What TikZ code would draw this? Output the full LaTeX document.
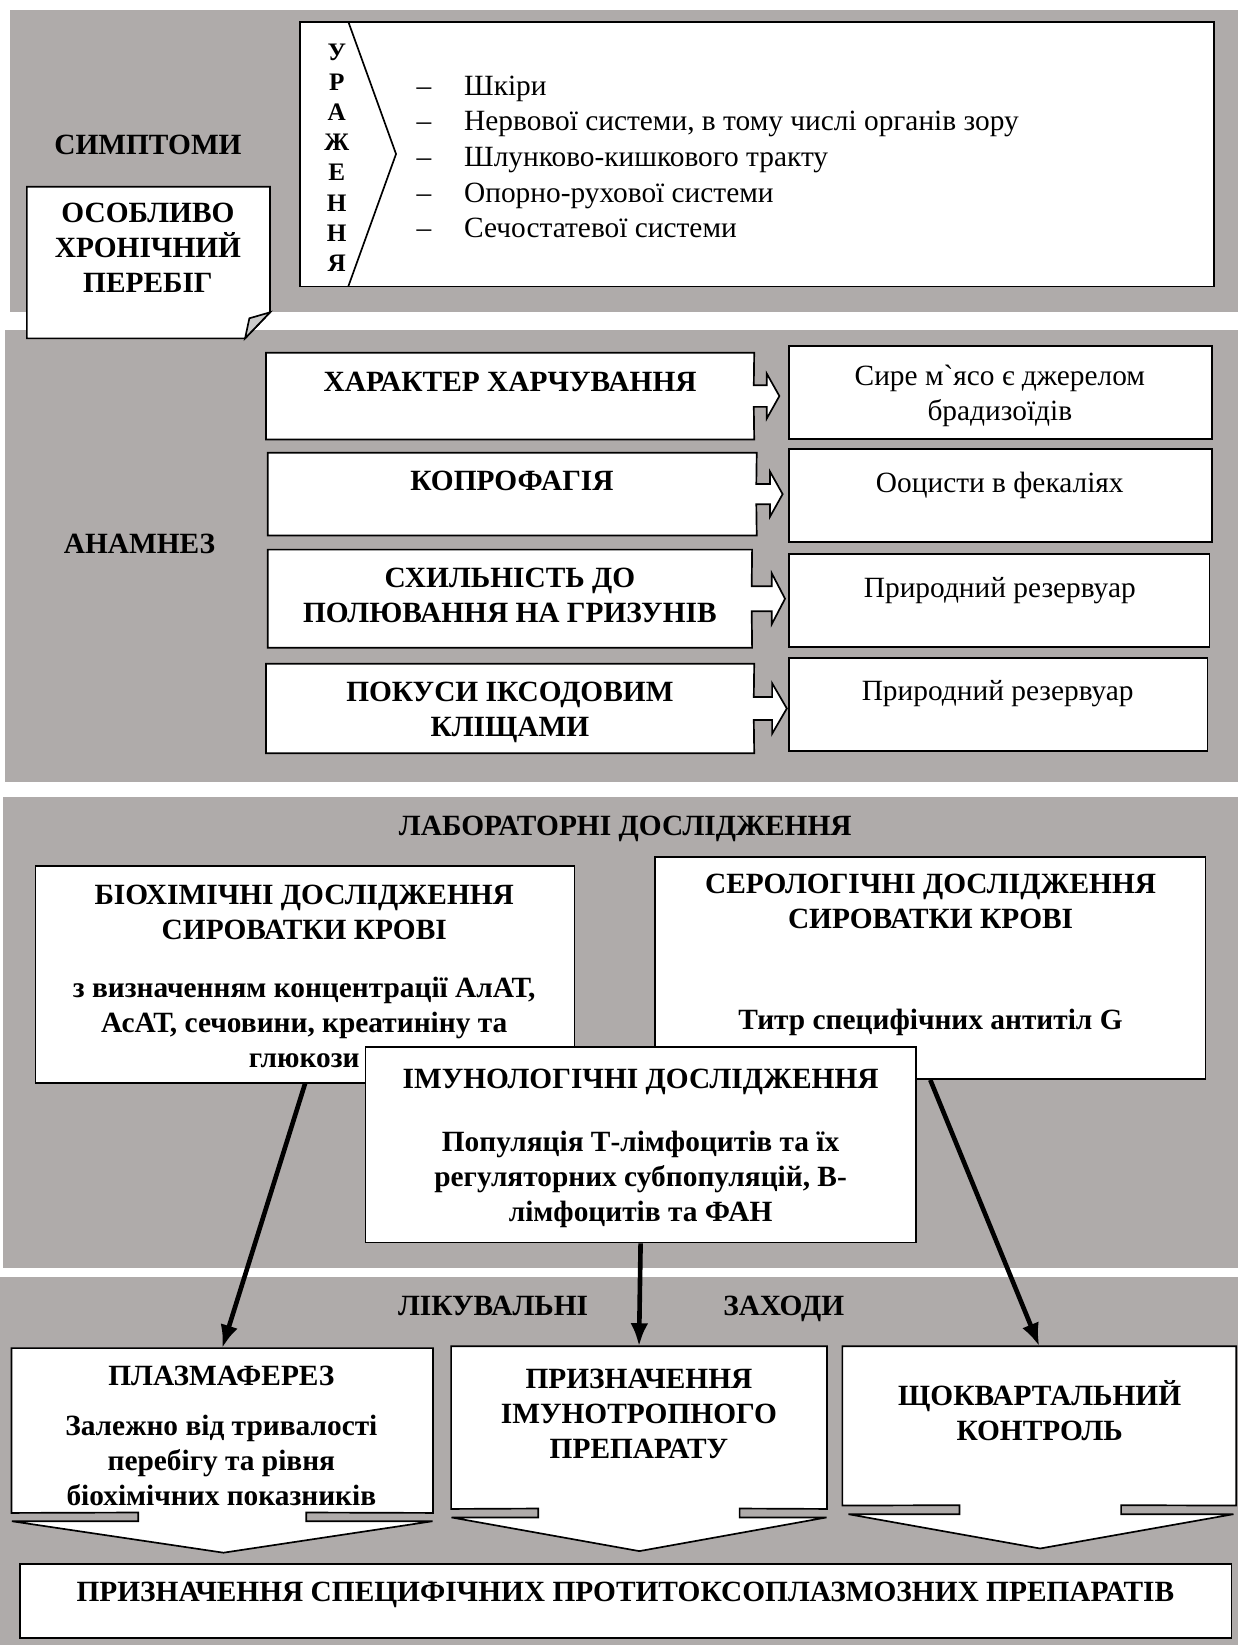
\documentclass[tikz,border=0pt]{standalone}
\usepackage{fontspec}
\setmainfont{Liberation Serif}
\usetikzlibrary{arrows.meta,fit}

\definecolor{bandgray}{RGB}{175,171,170}
\definecolor{foldgray}{RGB}{204,204,204}

\tikzset{
  box/.style={draw, line width=0.8pt, fill=white, inner sep=0pt},
  boxfill/.style={fill=white, inner sep=0pt},
  outline/.style={draw, line width=0.8pt, fill=white},
  hd/.style={font=\fontsize{14}{16.7}\selectfont\bfseries, align=center, inner sep=0pt},
  tx/.style={font=\fontsize{14}{16.7}\selectfont, align=center, inner sep=0pt},
  vlet/.style={font=\fontsize{12}{14}\selectfont\bfseries, inner sep=0pt},
  flow/.style={line width=2.2pt, -{Latex[length=11pt,width=8.5pt]}},
}

\begin{document}
\begin{tikzpicture}[x=0.5pt, y=-0.5pt]
  \useasboundingbox (0,0) rectangle (1180,1568);

  % grey bands
  \fill[bandgray] (10,10) rectangle (1180,297.7);
  \fill[bandgray] (5,314.6) rectangle (1180,745);
  \fill[bandgray] (3,760) rectangle (1180,1209);
  \fill[bandgray] (0,1217) rectangle (1180,1568);

  % symptoms
  \node[hd, anchor=base] (symp) at (141,147.3) {СИМПТОМИ};
  \node[box, fit={(286,20.7) (1157,273)}] (lesion) {};
  \draw[line width=0.8pt] (332,20.7) -- (377.5,146.8) -- (332,273);
  \foreach \ch [count=\i] in {У,Р,А,Ж,Е,Н,Н,Я}
    \node[vlet, anchor=base] (let\i) at (321,28.4+28.8*\i) {\ch};
  \foreach \organ [count=\i] in {Шкіри, {Нервової системи, в тому числі органів зору},
      Шлунково-кишкового тракту, Опорно-рухової системи, Сечостатевої системи}
  {
    \node[tx, anchor=base] (dash\i) at (404,56.6+34*\i) {--};
    \node[tx, anchor=base west] (org\i) at (442,56.6+34*\i) {\organ};
  }

  % note with folded corner
  \draw[outline] (25.6,178) -- (257.4,178) -- (257.4,297.7) -- (233.6,322.5) -- (25.6,322.5) -- cycle;
  \draw[line width=0.8pt, fill=foldgray] (257.4,297.7) -- (237.7,303.4) -- (233.6,322.5) -- cycle;
  \node[hd] (note) at (141,236.5) {ОСОБЛИВО\\ХРОНІЧНИЙ\\ПЕРЕБІГ};

  % anamnesis
  \node[hd, anchor=base] (anam) at (133,527.3) {АНАМНЕЗ};
  \node[boxfill, fit={(254,336.6) (718.5,418.5)}] (diet) {};
  \node[boxfill, fit={(255.6,432) (720.9,510)}] (copro) {};
  \node[boxfill, fit={(255.6,524.3) (716.5,617)}] (hunt) {};
  \node[boxfill, fit={(254,633) (718.5,717.5)}] (tick) {};
  \draw[outline] (diet.north west) -- (diet.north east) -- (718.5,367.2) -- (730.9,367.2) -- (730.9,356.2)
    -- (742.9,377.5) -- (730.9,398.9) -- (730.9,387.8) -- (718.5,387.8) -- (diet.south east) -- (diet.south west) -- cycle;
  \draw[outline] (copro.north west) -- (copro.north east) -- (720.9,461.3) -- (734,461.3) -- (734,449.6)
    -- (746,471) -- (734,492.4) -- (734,480.7) -- (720.9,480.7) -- (copro.south east) -- (copro.south west) -- cycle;
  \draw[outline] (hunt.north west) -- (hunt.north east) -- (716.5,558.8) -- (735.6,558.8) -- (735.6,546.4)
    -- (748.3,570.7) -- (735.6,595) -- (735.6,582.6) -- (716.5,582.6) -- (hunt.south east) -- (hunt.south west) -- cycle;
  \draw[outline] (tick.north west) -- (tick.north east) -- (718.5,664.3) -- (736,664.3) -- (736,651.3)
    -- (750,675.3) -- (736,699.3) -- (736,686.3) -- (718.5,686.3) -- (tick.south east) -- (tick.south west) -- cycle;
  \node[box, fit={(752,330) (1155,418.5)}] (meat) {};
  \node[box, fit={(752,428) (1155,516.7)}] (oocyst) {};
  \node[box, fit={(752,528) (1153,617)}] (resv) {};
  \node[box, fit={(752,627) (1151,715.6)}] (resvb) {};
  \node[hd, anchor=base] (tdiet) at (486.2,373.4) {ХАРАКТЕР ХАРЧУВАННЯ};
  \node[hd, anchor=base] (tcopro) at (488,467.3) {КОПРОФАГІЯ};
  \node[hd] (thunt) at (486,567.5) {СХИЛЬНІСТЬ ДО\\ПОЛЮВАННЯ НА ГРИЗУНІВ};
  \node[hd] (ttick) at (486,679) {ПОКУСИ ІКСОДОВИМ\\КЛІЩАМИ};
  \node[tx] (tmeat) at (953,377) {Сире м\textasciigrave ясо є джерелом\\брадизоїдів};
  \node[tx, anchor=base] (toocyst) at (953,469) {Ооцисти в фекаліях};
  \node[tx, anchor=base] (tresv) at (953,570) {Природний резервуар};
  \node[tx, anchor=base] (tresvb) at (951,668) {Природний резервуар};

  % laboratory
  \node[hd, anchor=base] (lab) at (596,796.3) {ЛАБОРАТОРНІ ДОСЛІДЖЕННЯ};
  \node[box, fit={(33.9,825.5) (547.7,1032)}] (bio) {};
  \node[box, fit={(624.5,816.6) (1149,1028.6)}] (sero) {};
  \node[hd] (tbio) at (290,870) {БІОХІМІЧНІ ДОСЛІДЖЕННЯ\\СИРОВАТКИ КРОВІ};
  \node[hd] (tbiob) at (290,974.5) {з визначенням концентрації АлАТ,\\АсАТ, сечовини, креатиніну та\\глюкози};
  \node[hd] (tsero) at (887,859.5) {СЕРОЛОГІЧНІ ДОСЛІДЖЕННЯ\\СИРОВАТКИ КРОВІ};
  \node[hd, anchor=base] (tserob) at (887,981.3) {Титр специфічних антитіл G};
  \node[box, fit={(348.4,997.8) (872.8,1184.3)}] (immune) {};
  \node[hd, anchor=base] (timm) at (610.6,1037.3) {ІМУНОЛОГІЧНІ ДОСЛІДЖЕННЯ};
  \node[hd] (timmb) at (610.6,1124) {Популяція Т-лімфоцитів та їх\\регуляторних субпопуляцій, В-\\лімфоцитів та ФАН};

  % treatment
  \node[hd, anchor=base] (treat) at (470,1254.3) {ЛІКУВАЛЬНІ};
  \node[hd, anchor=base] (treatb) at (747,1254.3) {ЗАХОДИ};
  \node[boxfill, fit={(11.3,1285.4) (412.3,1441.7)}] (plasma) {};
  \node[boxfill, fit={(430.4,1283.7) (787.8,1437.9)}] (presc) {};
  \node[boxfill, fit={(803.3,1283.7) (1178,1434.7)}] (quart) {};
  \draw[outline] (plasma.north west) -- (plasma.north east) -- (plasma.south east) -- (291.9,1441.7) -- (291.9,1450)
    -- (412.3,1450) -- (213,1480) -- (11.3,1450) -- (131.7,1450) -- (131.7,1441.7) -- (plasma.south west) -- cycle;
  \draw[outline] (presc.north west) -- (presc.north east) -- (presc.south east) -- (705,1437.9) -- (705,1446.4)
    -- (787.8,1446.4) -- (609.4,1478.5) -- (430.4,1446.4) -- (513.1,1446.4) -- (513.1,1437.9) -- (presc.south west) -- cycle;
  \draw[outline] (quart.north west) -- (quart.north east) -- (quart.south east) -- (1068.6,1434.7) -- (1068.6,1443.3)
    -- (1175.7,1443.3) -- (991.4,1476) -- (808.7,1443.3) -- (914.5,1443.3) -- (914.5,1434.7) -- (quart.south west) -- cycle;
  \node[hd, anchor=base] (tplasma) at (211,1320.3) {ПЛАЗМАФЕРЕЗ};
  \node[hd] (tplasmab) at (211,1392) {Залежно від тривалості\\перебігу та рівня\\біохімічних показників};
  \node[hd] (tpresc) at (609,1347.5) {ПРИЗНАЧЕННЯ\\ІМУНОТРОПНОГО\\ПРЕПАРАТУ};
  \node[hd] (tquart) at (991,1345) {ЩОКВАРТАЛЬНИЙ\\КОНТРОЛЬ};
  \node[box, fit={(18.8,1491) (1173.7,1561)}] (drug) {};
  \node[hd, anchor=base] (tdrug) at (596,1526.3) {ПРИЗНАЧЕННЯ СПЕЦИФІЧНИХ ПРОТИТОКСОПЛАЗМОЗНИХ ПРЕПАРАТІВ};

  \draw[flow] (bio.south) -- (plasma.north);
  \draw[flow] (immune.south) -- (presc.north);
  \draw[flow] (sero.south) -- (quart.north);
\end{tikzpicture}
\end{document}
